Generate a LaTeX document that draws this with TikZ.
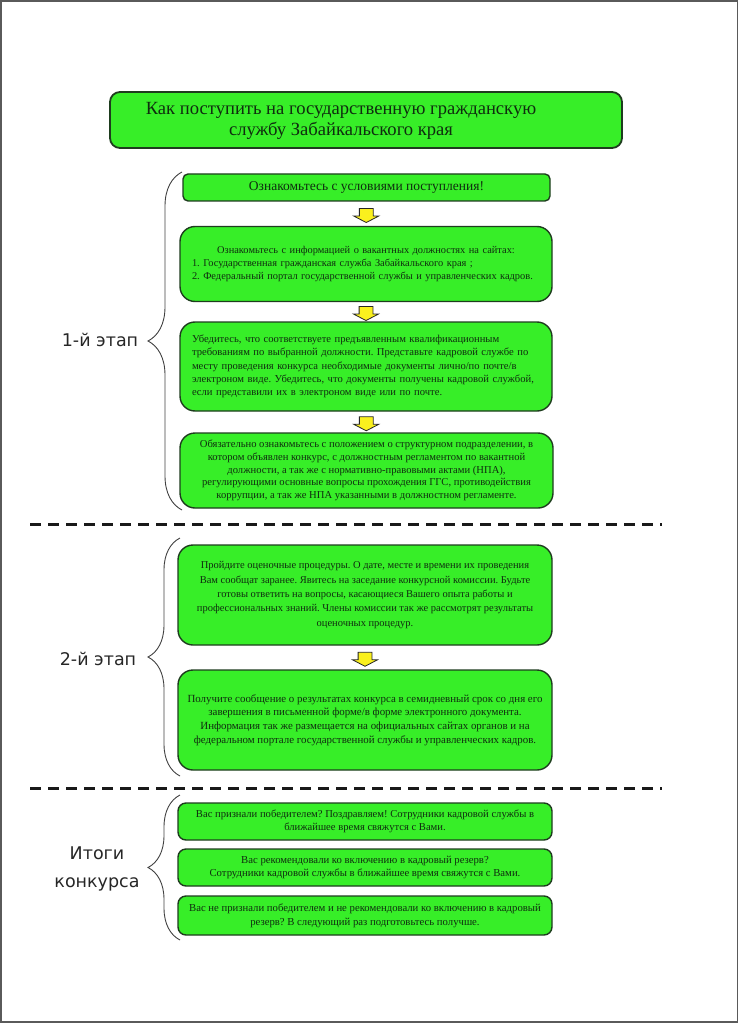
\documentclass[tikz,border=0pt]{standalone}
\usepackage{fontspec}
\setmainfont{Liberation Serif}
\newfontfamily\serifface{Liberation Serif}
\newfontfamily\labelfont{DejaVu Sans}
\usetikzlibrary{shapes.arrows,decorations.pathreplacing,calc}
\definecolor{grn}{RGB}{55,238,40}
\definecolor{bdr}{RGB}{30,60,30}
\definecolor{txt}{RGB}{15,45,15}
\definecolor{arrowy}{RGB}{250,240,30}
\definecolor{pageframe}{RGB}{90,90,90}
\frenchspacing
\begin{document}
\frenchspacing
\begin{tikzpicture}[x=1pt,y=-1pt,
  gbox/.style={draw=bdr, fill=grn, line width=1.4pt, text=txt, align=center,
    inner sep=0pt, rounded corners=15pt},
  downarr/.style={single arrow, draw=black!85, fill=arrowy, line width=0.8pt,
    shape border rotate=270, minimum height=14pt, minimum width=24pt,
    single arrow head extend=5.5pt, single arrow tip angle=125,
    single arrow head indent=0pt, inner xsep=6.5pt, inner ysep=0.5pt},
  sep/.style={line width=3pt, dash pattern=on 11pt off 7pt, black!90},
  stagebrace/.style={decorate, draw=black!75, line width=0.9pt},
  stagelabel/.style={font=\labelfont\fontsize{17.5}{28}\selectfont, text=black!85, align=center}
]
\useasboundingbox (0,0) rectangle (739,1024);
\draw[pageframe, line width=1.5pt] (1,1) rectangle (737.5,1022);

% title
\node[gbox, rounded corners=10pt, line width=1.8pt, minimum width=512pt, minimum height=56pt] (title) at (366,120) {};
\node[text=txt, align=center, font=\serifface\fontsize{18.6}{21.5}\selectfont] (titletext) at (341,121)
  {Как поступить на государственную гражданскую\\службу Забайкальского края};

% stage 1
\node[gbox, rounded corners=5pt, minimum width=367pt, minimum height=27pt, font=\serifface\fontsize{13.5}{16}\selectfont] (b1) at (366.5,187.5)
  {Ознакомьтесь с условиями поступления!};
\node[gbox, font=\serifface\fontsize{10.4}{12.7}\selectfont, minimum width=372pt, minimum height=75pt, text width=348pt, align=left] (b2) at (366,264)
  {\makebox[\linewidth][c]{Ознакомьтесь с информацией о вакантных должностях на сайтах:}\\
   1. Государственная гражданская служба Забайкальского края ;\\
   2. Федеральный портал государственной службы и управленческих кадров.};
\node[gbox, font=\serifface\fontsize{10.6}{13.4}\selectfont, minimum width=372pt, minimum height=89pt, text width=348pt, align=left] (b3) at (366,366.5)
  {Убедитесь, что соответствуете предъявленным квалификационным\\
   требованиям по выбранной должности. Представьте кадровой службе по\\
   месту проведения конкурса необходимые документы лично/по почте/в\\
   электроном виде. Убедитесь, что документы получены кадровой службой,\\
   если представили их в электроном виде или по почте.};
\node[gbox, font=\serifface\fontsize{10.6}{12.6}\selectfont, minimum width=373pt, minimum height=75pt] (b4) at (366.5,470.5)
  {Обязательно ознакомьтесь с положением о структурном подразделении, в\\
   котором объявлен конкурс, с должностным регламентом по вакантной\\
   должности, а так же с нормативно-правовыми актами (НПА),\\
   регулирующими основные вопросы прохождения ГГС, противодействия\\
   коррупции, а так же НПА указанными в должностном регламенте.};

\node[downarr] (a1) at ($(b1.south)!0.5!(b2.north)$) {};
\node[downarr] (a2) at ($(b2.south)!0.5!(b3.north)$) {};
\node[downarr] (a3) at ($(b3.south)!0.5!(b4.north)$) {};

% separators
\coordinate (s1a) at (30,524);
\coordinate (s1b) at (662,524);
\draw[sep] (s1a) -- (s1b);
\coordinate (s2a) at (30,788);
\coordinate (s2b) at (662,788);
\draw[sep] (s2a) -- (s2b);

% stage 2
\node[gbox, font=\serifface\fontsize{10.5}{14.4}\selectfont, minimum width=374pt, minimum height=100pt] (b5) at (365,595)
  {Пройдите оценочные процедуры. О дате, месте и времени их проведения\\
   Вам сообщат заранее. Явитесь на заседание конкурсной комиссии. Будьте\\
   готовы ответить на вопросы, касающиеся Вашего опыта работы и\\
   профессиональных знаний. Члены комиссии так же рассмотрят результаты\\
   оценочных процедур.};
\node[gbox, font=\serifface\fontsize{10.9}{13.8}\selectfont, minimum width=374pt, minimum height=100pt] (b6) at (365,720)
  {Получите сообщение о результатах конкурса в семидневный срок со дня его\\
   завершения в письменной форме/в форме электронного документа.\\
   Информация так же размещается на официальных сайтах органов и на\\
   федеральном портале государственной службы и управленческих кадров.};
\node[downarr] (a4) at ($(b5.south)!0.5!(b6.north)$) {};

% results
\node[gbox, rounded corners=8pt, font=\serifface\fontsize{10.6}{13}\selectfont, minimum width=374pt, minimum height=37pt] (b7) at (365,821.5)
  {Вас признали победителем? Поздравляем! Сотрудники кадровой службы в\\
   ближайшее время свяжутся с Вами.};
\node[gbox, rounded corners=8pt, font=\serifface\fontsize{10.7}{13}\selectfont, minimum width=374pt, minimum height=37pt] (b8) at (365,867.5)
  {Вас рекомендовали ко включению в кадровый резерв?\\
   Сотрудники кадровой службы в ближайшее время свяжутся с Вами.};
\node[gbox, rounded corners=8pt, font=\serifface\fontsize{10.7}{14}\selectfont, minimum width=374pt, minimum height=39pt] (b9) at (365,915.5)
  {Вас не признали победителем и не рекомендовали ко включению в кадровый\\
   резерв? В следующий раз подготовьтесь получше.};

% braces
\coordinate (br1t) at (182,172);
\coordinate (br1b) at (182,510);
\draw[stagebrace, decoration={brace, amplitude=34pt}] (br1b) -- (br1t);
\coordinate (br2t) at (180,538);
\coordinate (br2b) at (180,776);
\draw[stagebrace, decoration={brace, amplitude=32pt}] (br2b) -- (br2t);
\coordinate (br3t) at (180,795);
\coordinate (br3b) at (180,940);
\draw[stagebrace, decoration={brace, amplitude=32pt}] (br3b) -- (br3t);

\node[stagelabel] (l1) at (100,340) {1-й этап};
\node[stagelabel] (l2) at (98,659) {2-й этап};
\node[stagelabel] (l3) at (97,869) {Итоги\\конкурса};
\end{tikzpicture}
\end{document}
